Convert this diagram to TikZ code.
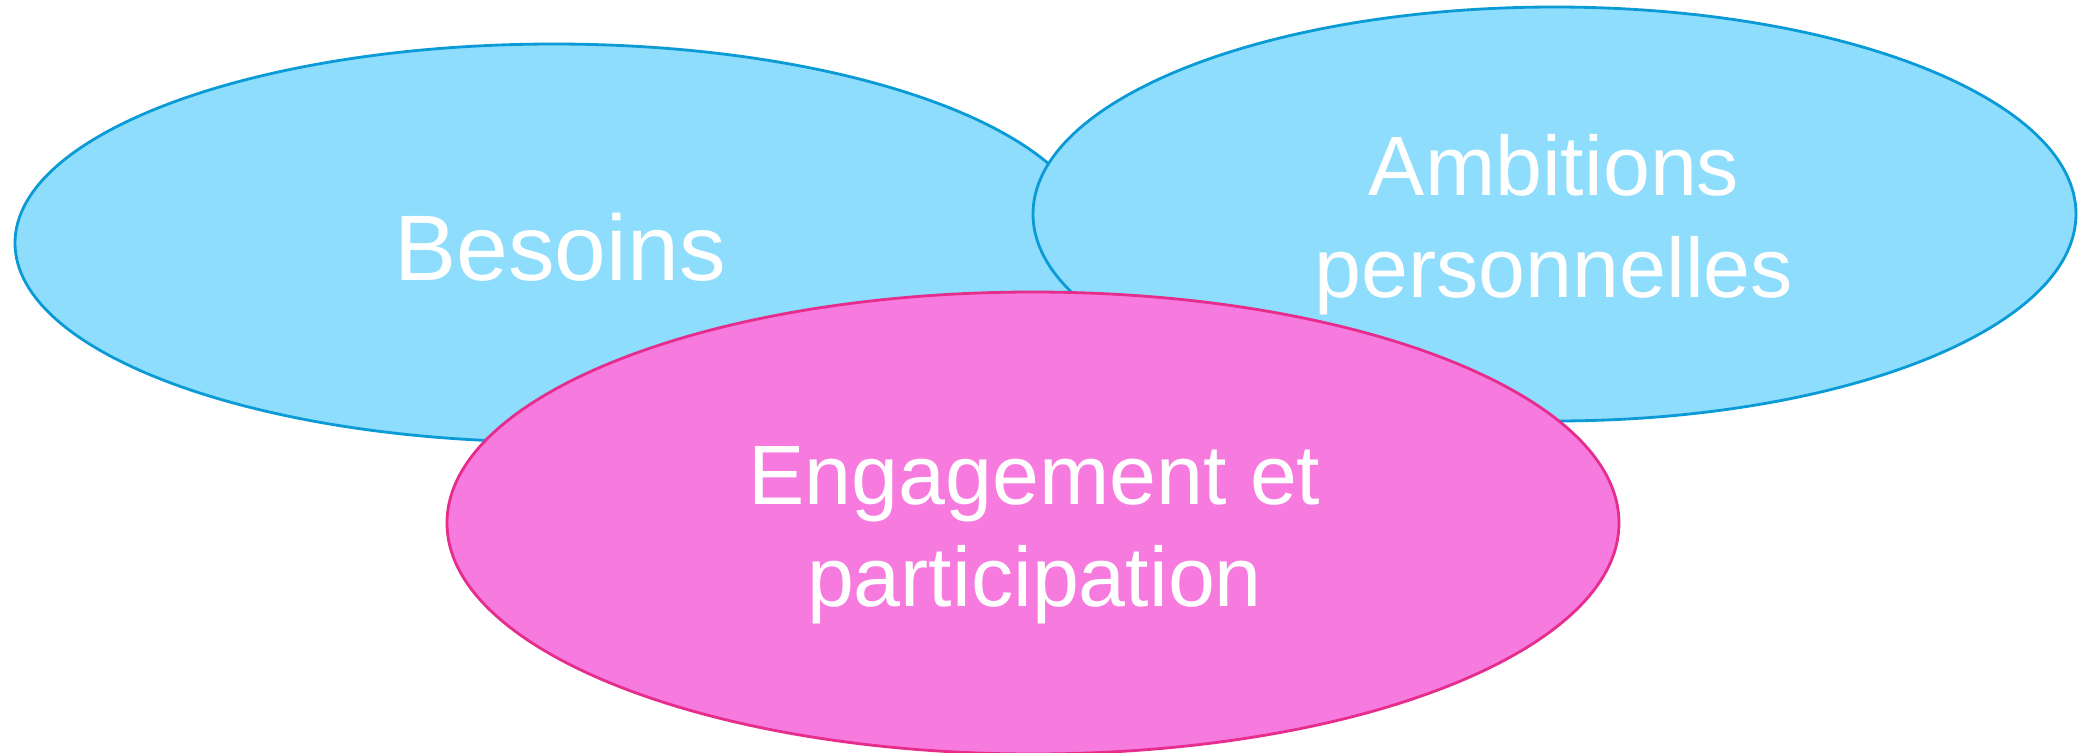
\documentclass[tikz,border=0pt]{standalone}
\usepackage{fontspec}
\setmainfont{Liberation Sans}
\usetikzlibrary{shapes.geometric,positioning}
\definecolor{bleu}{RGB}{142,221,253}
\definecolor{bleubord}{RGB}{10,155,215}
\definecolor{rose}{RGB}{247,122,222}
\definecolor{rosebord}{RGB}{230,45,140}
\tikzset{bulle/.style={ellipse,draw,line width=0.8pt,inner sep=0pt},
  texte/.style={white,align=center,anchor=base,font=\fontsize{24}{29}\selectfont}}

\begin{document}
\begin{tikzpicture}
\useasboundingbox (0,0) rectangle (20.8,7.52);
\node[bulle,fill=bleu,draw=bleubord,minimum width=10.78cm,minimum height=3.98cm] (besoins) at (5.54,5.09) {};
\node[bulle,fill=bleu,draw=bleubord,minimum width=10.43cm,minimum height=4.14cm] (ambitions) at (15.545,5.38) {};
\node[bulle,fill=rose,draw=rosebord,minimum width=11.72cm,minimum height=4.62cm] (engagement) at (10.33,2.29) {};
\node[texte,font=\fontsize{26.5}{30}\selectfont] (tbesoins) at (5.60,4.72) {Besoins};
\node[texte] (tambitions) at (15.54,4.55) {Ambitions\\personnelles};
\node[texte] (tengagement) at (10.345,1.46) {Engagement et\\participation};
\end{tikzpicture}
\end{document}
